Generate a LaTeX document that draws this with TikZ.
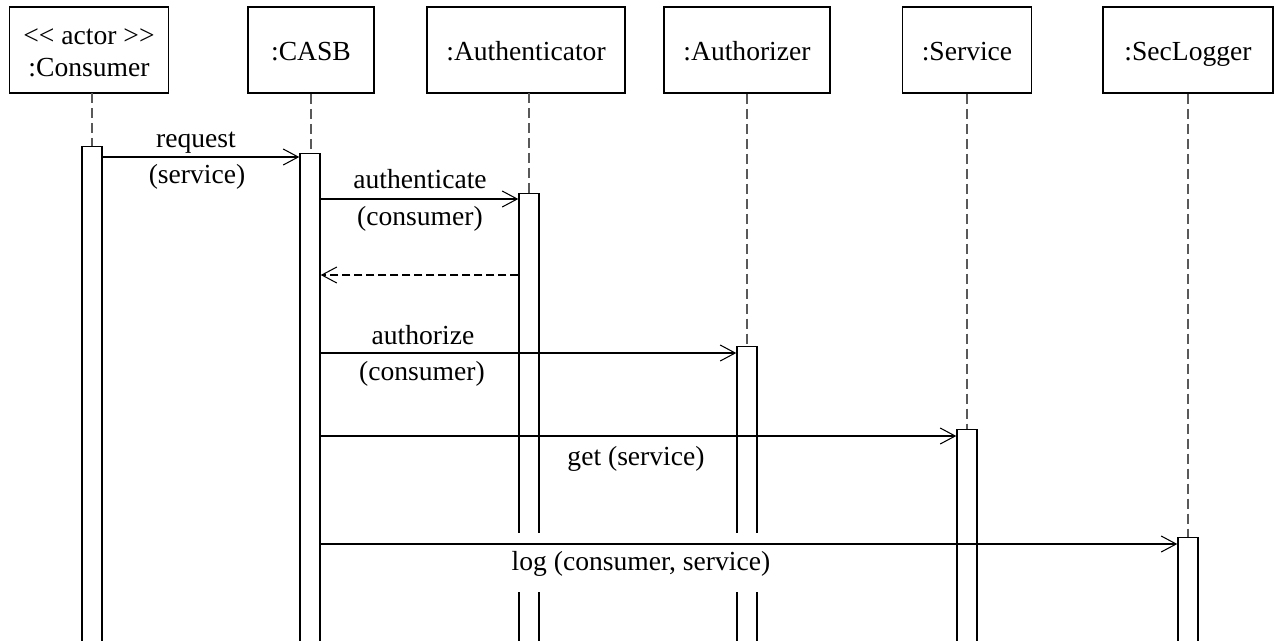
\documentclass[tikz,border=0pt]{standalone}
\usepackage{fontspec}
\setmainfont{Liberation Serif}
\usetikzlibrary{arrows.meta}

\tikzset{
  obj/.style={draw, line width=0.9pt, minimum height=17.2mm, align=center, inner sep=0pt},
  one/.style={obj, text height=13pt, text depth=1.5pt},
  life/.style={draw=black!65, dash pattern=on 2mm off 1mm, line width=0.6pt},
  act/.style={draw, fill=white, line width=0.8pt, minimum width=4mm, minimum height=110mm, anchor=north, inner sep=0pt},
  msg/.style={line width=0.6pt, -{Straight Barb[length=3mm,width=3.2mm]}},
  ret/.style={msg, dash pattern=on 1.6mm off 0.8mm},
  lbl/.style={anchor=base, inner sep=0pt},
}

\begin{document}
\begin{tikzpicture}[x=0.02cm, y=-0.02cm, font=\fontsize{15.7}{18.5}\selectfont]
  \clip (0,0) rectangle (1275,640);
  \coordinate (bot) at (0,660);

  % objects
  \node[obj, minimum width=31.8mm, text height=32pt, text depth=1.4pt] (cons) at (89,50) {<\kern0pt< actor >\kern0pt>\\:Consumer};
  \node[one, minimum width=25.2mm] (casb) at (311,50) {:CASB};
  \node[one, minimum width=39.6mm] (authn) at (526,50) {:Authenticator};
  \node[one, minimum width=33.2mm] (authz) at (747,50) {:Authorizer};
  \node[one, minimum width=25.8mm] (serv) at (967,50) {:Service};
  \node[one, minimum width=34mm] (slog) at (1188,50) {:SecLogger};

  % lifelines
  \draw[life] (92,93) -- (92,660);
  \draw[life] (casb.south) -- (casb.south |- bot);
  \draw[life] (529,93) -- (529,660);
  \draw[life] (authz.south) -- (authz.south |- bot);
  \draw[life] (serv.south) -- (serv.south |- bot);
  \draw[life] (slog.south) -- (slog.south |- bot);

  % activations
  \node[act] (bcons) at (92,146) {};
  \node[act] (bcasb) at (310,153) {};
  \node[act] (bauthn) at (529,193) {};
  \node[act] (bauthz) at (747,346) {};
  \node[act] (bserv) at (967,429) {};
  \node[act] (bslog) at (1188,537) {};

  % label that hides the bars
  \node[lbl, fill=white, inner xsep=2pt, inner ysep=10pt, text height=11pt, text depth=2.5pt] (l6) at (641,570) {log (consumer, service)};

  % messages
  \coordinate (m1) at (0,157);
  \coordinate (m2) at (0,199);
  \coordinate (m3) at (0,275);
  \coordinate (m4) at (0,353);
  \coordinate (m5) at (0,436);
  \coordinate (m6) at (0,544);
  \draw[msg] (bcons.east |- m1) -- (bcasb.west |- m1);
  \draw[msg] (bcasb.east |- m2) -- (bauthn.west |- m2);
  \draw[ret] (bauthn.west |- m3) -- (bcasb.east |- m3);
  \draw[msg] (bcasb.east |- m4) -- (bauthz.west |- m4);
  \draw[msg] (bcasb.east |- m5) -- (bserv.west |- m5);
  \draw[msg] (bcasb.east |- m6) -- (bslog.west |- m6);

  % labels
  \node[lbl] (l1a) at (196,147) {request};
  \node[lbl] (l1b) at (197,183) {(service)};
  \node[lbl] (l2a) at (420,188) {authenticate};
  \node[lbl] (l2b) at (420,225) {(consumer)};
  \node[lbl] (l4a) at (423,344) {authorize};
  \node[lbl] (l4b) at (422,380) {(consumer)};
  \node[lbl] (l5) at (636,465) {get (service)};
\end{tikzpicture}
\end{document}
